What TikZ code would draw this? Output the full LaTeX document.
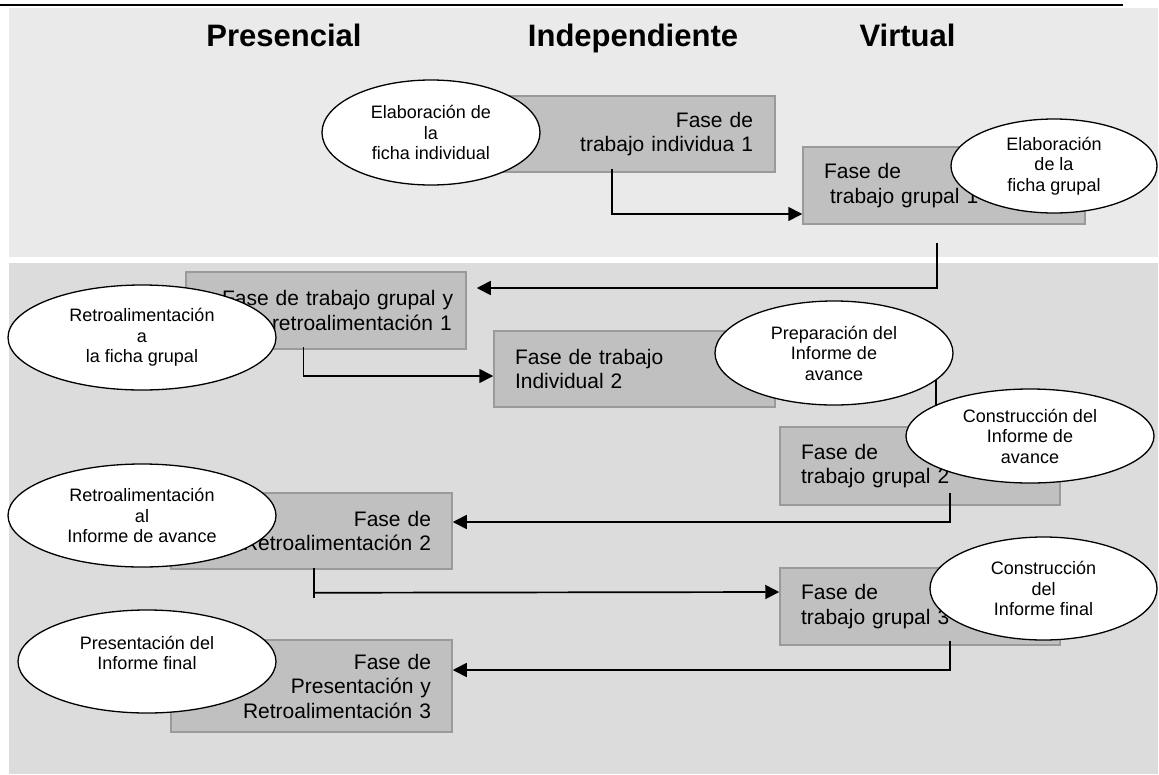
\documentclass[tikz,border=0pt]{standalone}
\usepackage{fontspec}
\setmainfont{Liberation Sans}
\usetikzlibrary{shapes.geometric,arrows.meta}
\definecolor{topgray}{HTML}{EAEAEA}
\definecolor{lowgray}{HTML}{DCDCDC}
\definecolor{boxfill}{HTML}{C0C0C0}
\definecolor{boxedge}{HTML}{9A9A9A}
\begin{document}
\begin{tikzpicture}[x=1pt,y=-1pt,
  header/.style={font=\fontsize{31}{36}\selectfont\bfseries, anchor=base, inner sep=0pt},
  phasebox/.style={rectangle, draw=boxedge, line width=1.5pt, fill=boxfill,
    font=\fontsize{21}{24.5}\selectfont, inner ysep=0pt},
  activity/.style={ellipse, draw=black, line width=1.3pt, fill=white, inner sep=0pt,
    align=center, font=\fontsize{18}{20.5}\selectfont},
  link/.style={line width=1.7pt},
  conn/.style={link, -{Triangle[length=14pt,width=14pt]}}
]
\useasboundingbox (0,0) rectangle (1159,774);

% rule and the two background bands
\draw[line width=2.5pt] (0,5) -- (1123,5);
\fill[topgray] (9,8) rectangle (1158,257);
\fill[lowgray] (9,263) rectangle (1158,774);

% column headings
\node[header] (hpres) at (284,46.5) {Presencial};
\node[header] (hind)  at (633,46.5) {Independiente};
\node[header] (hvirt) at (907.5,46.5) {Virtual};

% phases
\node[phasebox, minimum width=291pt, minimum height=76pt, text width=247pt, inner xsep=22pt, align=right]
  (ind1) at (629.5,134) {Fase de\\trabajo individua 1};
\node[phasebox, minimum width=282pt, minimum height=77pt, text width=240pt, inner xsep=21pt, align=left]
  (gr1) at (944,185.5) {Fase de\\\hspace*{6pt}trabajo grupal 1};
\node[phasebox, minimum width=280pt, minimum height=77pt, text width=258pt, inner xsep=11pt, align=left]
  (gyr1) at (326,310.5) {\hspace*{25pt}Fase de trabajo grupal y\\\hspace*{75pt}retroalimentación 1};
\node[phasebox, minimum width=281pt, minimum height=76pt, text width=239pt, inner xsep=21pt, align=left]
  (ind2) at (634.5,369) {Fase de trabajo\\Individual 2};
\node[phasebox, minimum width=280pt, minimum height=78pt, text width=238pt, inner xsep=21pt, align=left]
  (gr2) at (920,466) {Fase de\\trabajo grupal 2};
\node[phasebox, minimum width=281pt, minimum height=76pt, text width=239pt, inner xsep=21pt, align=right]
  (retro2) at (311.5,531) {Fase de\\Retroalimentación 2};
\node[phasebox, minimum width=280pt, minimum height=77pt, text width=238pt, inner xsep=21pt, align=left]
  (gr3) at (920,606.5) {Fase de\\trabajo grupal 3};
\node[phasebox, minimum width=281pt, minimum height=92pt, text width=239pt, inner xsep=21pt, align=right]
  (retro3) at (311.5,686) {Fase de\\Presentación y\\Retroalimentación 3};

% flow between phases
\draw[conn] ([yshift=4pt]ind1.south -| 612,0) |- (gr1.west |- 0,214);
\draw[conn] ([yshift=-18pt]gr1.south -| 937,0) |- ([xshift=10pt]gyr1.east |- 0,288);
\draw[conn] ([yshift=3pt]gyr1.south -| 303.5,0) |- (ind2.west |- 0,376);
\draw[conn] (ind2.east |- 0,360) -| (gr2.north -| 936,0);
\draw[conn] ([yshift=13pt]gr2.south -| 950,0) |- (retro2.east |- 0,522);
\draw[link] ([yshift=2pt]retro2.south -| 314,0) -- ([yshift=-28pt]retro2.south -| 314,0);
\draw[conn] ([yshift=-23pt]retro2.south -| 314,0) -- (gr3.west |- 0,592);
\draw[conn] ([yshift=5pt]gr3.south -| 950,0) |- (retro3.east |- 0,670);

% activities
\node[activity, minimum width=218pt, minimum height=105pt] (a1) at (431,132.5)
  {Elaboración de\\la\\ficha individual};
\node[activity, minimum width=206pt, minimum height=94pt] (a2) at (1054,166)
  {Elaboración\\de la\\ficha grupal};
\node[activity, minimum width=268pt, minimum height=105pt] (a3) at (142,337.5)
  {Retroalimentación\\a\\la ficha grupal};
\node[activity, minimum width=238pt, minimum height=104pt] (a4) at (834,353)
  {Preparación del\\Informe de\\avance};
\node[activity, minimum width=248pt, minimum height=94pt] (a5) at (1030,436)
  {Construcción del\\Informe de\\avance};
\node[activity, minimum width=268pt, minimum height=103pt] (a6) at (142,515.5)
  {Retroalimentación\\al\\Informe de avance};
\node[activity, minimum width=227pt, minimum height=103pt] (a7) at (1043.5,588.5)
  {Construcción\\del\\Informe final};
\node[activity, minimum width=258pt, minimum height=103pt, text depth=17pt] (a8) at (147,661.5)
  {Presentación del\\Informe final};
\end{tikzpicture}
\end{document}
